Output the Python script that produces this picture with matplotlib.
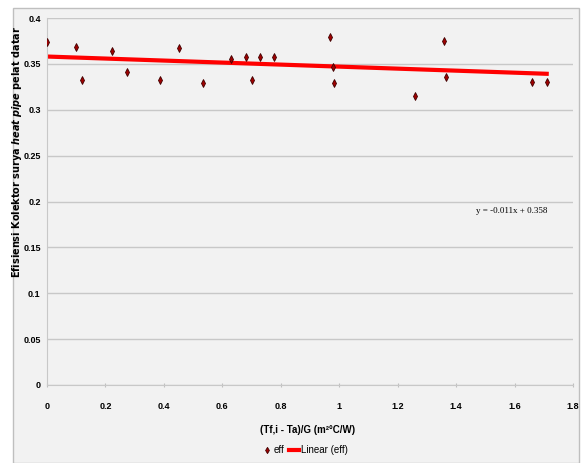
import numpy as np
import matplotlib
matplotlib.use("Agg")
import matplotlib.pyplot as plt
from matplotlib.patches import Rectangle

plt.rcParams['font.family'] = ['Liberation Sans', 'DejaVu Sans']
plt.rcParams['mathtext.fontset'] = 'custom'
plt.rcParams['mathtext.rm'] = 'DejaVu Sans'
plt.rcParams['mathtext.bfit'] = 'DejaVu Sans:italic:bold'

# data
XValues = [0.0, 0.099, 0.12, 0.223, 0.274, 0.387, 0.452, 0.534, 0.630, 0.680, 0.700,
           0.730, 0.777, 0.969, 0.979, 0.983, 1.260, 1.360, 1.366, 1.658, 1.710]
EffValues = [0.374, 0.368, 0.332, 0.364, 0.341, 0.332, 0.367, 0.329, 0.355, 0.357, 0.332,
             0.358, 0.358, 0.379, 0.347, 0.329, 0.315, 0.375, 0.336, 0.330, 0.330]
Slope = -0.011
Intercept = 0.358
XTicks = [0, 0.2, 0.4, 0.6, 0.8, 1, 1.2, 1.4, 1.6, 1.8]
XTickLabels = ["0", "0.2", "0.4", "0.6", "0.8", "1", "1.2", "1.4", "1.6", "1.8"]
YTicks = [0, 0.05, 0.1, 0.15, 0.2, 0.25, 0.3, 0.35, 0.4]
YTickLabels = ["0", "0.05", "0.1", "0.15", "0.2", "0.25", "0.3", "0.35", "0.4"]

bg = "#f2f2f2"
fig = plt.figure(figsize=(5.81, 4.63), dpi=100)
fig.patch.set_facecolor("white")
fig.patches.append(Rectangle((13 / 581, 0), 566 / 581, 455 / 463, transform=fig.transFigure,
                             facecolor=bg, edgecolor="#bfbfbf", linewidth=1, zorder=-5))

ax = fig.add_axes([47 / 581, 1 - 385 / 463, 526 / 581, 367 / 463])
ax.set_facecolor(bg)

lineX = np.array([min(XValues), max(XValues)])
ax.plot(lineX, Slope * lineX + Intercept, color="#ff0000", linewidth=3, label="Linear (eff)", zorder=2)
ax.plot(XValues, EffValues, linestyle="none", marker="d", markersize=4,
        markerfacecolor="#a00000", markeredgecolor="#400000", markeredgewidth=0.6,
        label="eff", zorder=3)

ax.set_xlim(0, 1.8)
ax.set_ylim(0, 0.4)
ax.set_xticks(XTicks)
ax.set_xticklabels(XTickLabels, fontsize=6.5, fontweight="bold")
ax.set_yticks(YTicks)
ax.set_yticklabels(YTickLabels, fontsize=6.5, fontweight="bold")
ax.tick_params(axis="x", length=3, color="#bfbfbf", pad=11, direction="inout")
ax.tick_params(axis="y", length=0, pad=4.5)
ax.grid(axis="y", color="#c8c8c8", linewidth=1)
ax.set_axisbelow(True)
for side in ["top", "right"]:
    ax.spines[side].set_visible(False)
for side in ["left", "bottom"]:
    ax.spines[side].set_color("#c8c8c8")

ax.text(1.59, 0.19, "y = -0.011x + 0.358", fontsize=6.5, ha="center", va="center", family="Liberation Serif")

fig.text(308 / 581, 1 - 430 / 463, "(Tf,i - Ta)/G (m²°C/W)", fontsize=7, fontweight="bold",
         ha="center", va="center")
fig.text(17 / 581, 1 - 152 / 463,
         r"Efisiensi Kolektor surya $\mathbfit{heat\ pipe}$ pelat datar",
         fontsize=7, fontweight="bold", rotation=90, ha="center", va="center", family="DejaVu Sans")

handles, labels = ax.get_legend_handles_labels()
leg = fig.legend(handles[::-1], labels[::-1], loc="center", bbox_to_anchor=(305 / 581, 1 - 450 / 463),
                 ncol=2, frameon=False, fontsize=7, handlelength=1.0, handletextpad=0.2,
                 columnspacing=0.5, markerscale=0.8)

fig.savefig("out.png", dpi=100)
